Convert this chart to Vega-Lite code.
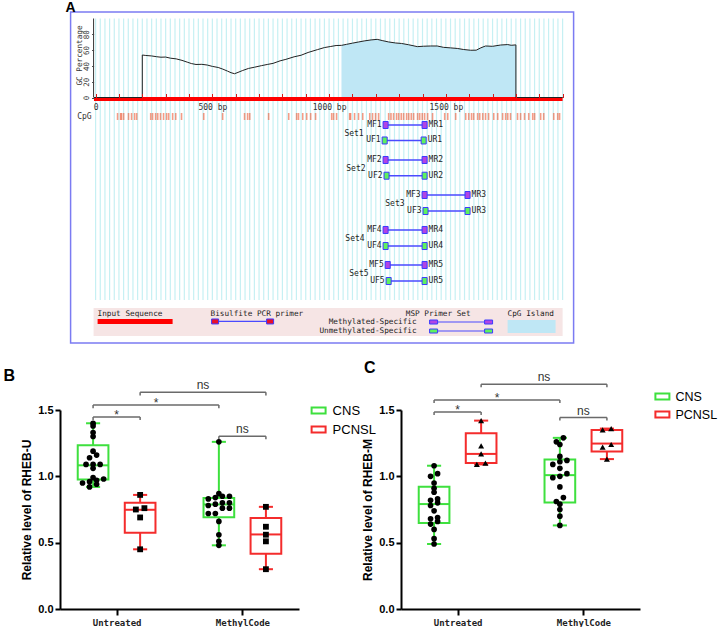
{
  "$schema": "https://vega.github.io/schema/vega-lite/v6.json",
  "padding": {"left": 3, "top": 0, "right": 0, "bottom": 0},
  "background": "white",
  "config": {"view": {"stroke": null}, "font": "Liberation Sans"},
  "datasets": {
    "gccurve": [
      {"bp": -7, "gc": 0}, {"bp": 200, "gc": 0}, {"bp": 200, "gc": 53.8}, {"bp": 215, "gc": 53.2}, {"bp": 240, "gc": 52.6},
      {"bp": 262, "gc": 51.6}, {"bp": 280, "gc": 51.0}, {"bp": 300, "gc": 51.2}, {"bp": 320, "gc": 49.8}, {"bp": 345, "gc": 48.9},
      {"bp": 370, "gc": 47.0}, {"bp": 395, "gc": 44.5}, {"bp": 410, "gc": 43.0}, {"bp": 430, "gc": 41.8}, {"bp": 455, "gc": 42.0},
      {"bp": 478, "gc": 41.1}, {"bp": 500, "gc": 39.4}, {"bp": 525, "gc": 38.0}, {"bp": 545, "gc": 35.9}, {"bp": 565, "gc": 33.4},
      {"bp": 580, "gc": 31.4}, {"bp": 595, "gc": 30.1}, {"bp": 610, "gc": 31.8}, {"bp": 630, "gc": 34.2}, {"bp": 655, "gc": 36.8},
      {"bp": 680, "gc": 38.3}, {"bp": 710, "gc": 40.3}, {"bp": 735, "gc": 41.8}, {"bp": 760, "gc": 43.2}, {"bp": 790, "gc": 46.4},
      {"bp": 815, "gc": 48.3}, {"bp": 850, "gc": 51.5}, {"bp": 880, "gc": 53.5}, {"bp": 910, "gc": 57.0}, {"bp": 950, "gc": 60.6},
      {"bp": 980, "gc": 63.2}, {"bp": 1005, "gc": 64.5}, {"bp": 1030, "gc": 65.8}, {"bp": 1053, "gc": 66.0}, {"bp": 1075, "gc": 67.3},
      {"bp": 1100, "gc": 68.8}, {"bp": 1125, "gc": 70.2}, {"bp": 1150, "gc": 71.6}, {"bp": 1180, "gc": 72.9}, {"bp": 1206, "gc": 73.6},
      {"bp": 1230, "gc": 71.9}, {"bp": 1255, "gc": 70.3}, {"bp": 1285, "gc": 69.0}, {"bp": 1310, "gc": 68.4}, {"bp": 1340, "gc": 66.8},
      {"bp": 1378, "gc": 64.4}, {"bp": 1405, "gc": 64.9}, {"bp": 1435, "gc": 65.2}, {"bp": 1463, "gc": 65.2}, {"bp": 1490, "gc": 63.5},
      {"bp": 1520, "gc": 62.8}, {"bp": 1549, "gc": 62.1}, {"bp": 1575, "gc": 60.8}, {"bp": 1606, "gc": 59.8}, {"bp": 1630, "gc": 59.9},
      {"bp": 1650, "gc": 62.9}, {"bp": 1670, "gc": 65.2}, {"bp": 1700, "gc": 64.8}, {"bp": 1734, "gc": 66.4}, {"bp": 1765, "gc": 67.0},
      {"bp": 1780, "gc": 66.1}, {"bp": 1800, "gc": 66.6}, {"bp": 1800, "gc": 0}, {"bp": 2000, "gc": 0}
    ],
    "primers": [
      {"set": 1, "name": "MF1", "type": "M", "side": "F", "bp": 1242, "gc": -34.8},
      {"set": 1, "name": "MR1", "type": "M", "side": "R", "bp": 1409, "gc": -34.8},
      {"set": 1, "name": "UF1", "type": "U", "side": "F", "bp": 1238, "gc": -54.4},
      {"set": 1, "name": "UR1", "type": "U", "side": "R", "bp": 1405, "gc": -54.4},
      {"set": 2, "name": "MF2", "type": "M", "side": "F", "bp": 1242, "gc": -79.1},
      {"set": 2, "name": "MR2", "type": "M", "side": "R", "bp": 1409, "gc": -79.1},
      {"set": 2, "name": "UF2", "type": "U", "side": "F", "bp": 1246, "gc": -99.0},
      {"set": 2, "name": "UR2", "type": "U", "side": "R", "bp": 1409, "gc": -99.0},
      {"set": 3, "name": "MF3", "type": "M", "side": "F", "bp": 1409, "gc": -123.4},
      {"set": 3, "name": "MR3", "type": "M", "side": "R", "bp": 1593, "gc": -123.4},
      {"set": 3, "name": "UF3", "type": "U", "side": "F", "bp": 1413, "gc": -143.7},
      {"set": 3, "name": "UR3", "type": "U", "side": "R", "bp": 1593, "gc": -143.7},
      {"set": 4, "name": "MF4", "type": "M", "side": "F", "bp": 1242, "gc": -167.7},
      {"set": 4, "name": "MR4", "type": "M", "side": "R", "bp": 1409, "gc": -167.7},
      {"set": 4, "name": "UF4", "type": "U", "side": "F", "bp": 1242, "gc": -188.0},
      {"set": 4, "name": "UR4", "type": "U", "side": "R", "bp": 1409, "gc": -188.0},
      {"set": 5, "name": "MF5", "type": "M", "side": "F", "bp": 1251, "gc": -212.0},
      {"set": 5, "name": "MR5", "type": "M", "side": "R", "bp": 1409, "gc": -212.0},
      {"set": 5, "name": "UF5", "type": "U", "side": "F", "bp": 1255, "gc": -232.3},
      {"set": 5, "name": "UR5", "type": "U", "side": "R", "bp": 1409, "gc": -232.3}
    ],
    "pts": [
      {"panel": "B", "treat": "Untreated", "grp": "CNS", "v": 1.40}, {"panel": "B", "treat": "Untreated", "grp": "CNS", "v": 1.38},
      {"panel": "B", "treat": "Untreated", "grp": "CNS", "v": 1.33}, {"panel": "B", "treat": "Untreated", "grp": "CNS", "v": 1.30},
      {"panel": "B", "treat": "Untreated", "grp": "CNS", "v": 1.19}, {"panel": "B", "treat": "Untreated", "grp": "CNS", "v": 1.16},
      {"panel": "B", "treat": "Untreated", "grp": "CNS", "v": 1.14}, {"panel": "B", "treat": "Untreated", "grp": "CNS", "v": 1.09},
      {"panel": "B", "treat": "Untreated", "grp": "CNS", "v": 1.09}, {"panel": "B", "treat": "Untreated", "grp": "CNS", "v": 1.09},
      {"panel": "B", "treat": "Untreated", "grp": "CNS", "v": 1.06}, {"panel": "B", "treat": "Untreated", "grp": "CNS", "v": 0.99},
      {"panel": "B", "treat": "Untreated", "grp": "CNS", "v": 0.98}, {"panel": "B", "treat": "Untreated", "grp": "CNS", "v": 0.97},
      {"panel": "B", "treat": "Untreated", "grp": "CNS", "v": 0.96}, {"panel": "B", "treat": "Untreated", "grp": "CNS", "v": 0.95},
      {"panel": "B", "treat": "Untreated", "grp": "CNS", "v": 0.94}, {"panel": "B", "treat": "Untreated", "grp": "CNS", "v": 0.92},
      {"panel": "B", "treat": "Untreated", "grp": "PCNSL", "v": 0.86}, {"panel": "B", "treat": "Untreated", "grp": "PCNSL", "v": 0.76},
      {"panel": "B", "treat": "Untreated", "grp": "PCNSL", "v": 0.75}, {"panel": "B", "treat": "Untreated", "grp": "PCNSL", "v": 0.69},
      {"panel": "B", "treat": "Untreated", "grp": "PCNSL", "v": 0.45},
      {"panel": "B", "treat": "MethylCode", "grp": "CNS", "v": 1.26}, {"panel": "B", "treat": "MethylCode", "grp": "CNS", "v": 0.87},
      {"panel": "B", "treat": "MethylCode", "grp": "CNS", "v": 0.85}, {"panel": "B", "treat": "MethylCode", "grp": "CNS", "v": 0.85},
      {"panel": "B", "treat": "MethylCode", "grp": "CNS", "v": 0.84}, {"panel": "B", "treat": "MethylCode", "grp": "CNS", "v": 0.83},
      {"panel": "B", "treat": "MethylCode", "grp": "CNS", "v": 0.80}, {"panel": "B", "treat": "MethylCode", "grp": "CNS", "v": 0.80},
      {"panel": "B", "treat": "MethylCode", "grp": "CNS", "v": 0.79}, {"panel": "B", "treat": "MethylCode", "grp": "CNS", "v": 0.78},
      {"panel": "B", "treat": "MethylCode", "grp": "CNS", "v": 0.76}, {"panel": "B", "treat": "MethylCode", "grp": "CNS", "v": 0.76},
      {"panel": "B", "treat": "MethylCode", "grp": "CNS", "v": 0.72}, {"panel": "B", "treat": "MethylCode", "grp": "CNS", "v": 0.72},
      {"panel": "B", "treat": "MethylCode", "grp": "CNS", "v": 0.66}, {"panel": "B", "treat": "MethylCode", "grp": "CNS", "v": 0.56},
      {"panel": "B", "treat": "MethylCode", "grp": "CNS", "v": 0.51}, {"panel": "B", "treat": "MethylCode", "grp": "CNS", "v": 0.48},
      {"panel": "B", "treat": "MethylCode", "grp": "PCNSL", "v": 0.77}, {"panel": "B", "treat": "MethylCode", "grp": "PCNSL", "v": 0.62},
      {"panel": "B", "treat": "MethylCode", "grp": "PCNSL", "v": 0.56}, {"panel": "B", "treat": "MethylCode", "grp": "PCNSL", "v": 0.51},
      {"panel": "B", "treat": "MethylCode", "grp": "PCNSL", "v": 0.30},
      {"panel": "C", "treat": "Untreated", "grp": "CNS", "v": 1.08}, {"panel": "C", "treat": "Untreated", "grp": "CNS", "v": 1.02},
      {"panel": "C", "treat": "Untreated", "grp": "CNS", "v": 1.00}, {"panel": "C", "treat": "Untreated", "grp": "CNS", "v": 0.95},
      {"panel": "C", "treat": "Untreated", "grp": "CNS", "v": 0.91}, {"panel": "C", "treat": "Untreated", "grp": "CNS", "v": 0.88},
      {"panel": "C", "treat": "Untreated", "grp": "CNS", "v": 0.83}, {"panel": "C", "treat": "Untreated", "grp": "CNS", "v": 0.82},
      {"panel": "C", "treat": "Untreated", "grp": "CNS", "v": 0.80}, {"panel": "C", "treat": "Untreated", "grp": "CNS", "v": 0.78},
      {"panel": "C", "treat": "Untreated", "grp": "CNS", "v": 0.74}, {"panel": "C", "treat": "Untreated", "grp": "CNS", "v": 0.69},
      {"panel": "C", "treat": "Untreated", "grp": "CNS", "v": 0.68}, {"panel": "C", "treat": "Untreated", "grp": "CNS", "v": 0.66},
      {"panel": "C", "treat": "Untreated", "grp": "CNS", "v": 0.64}, {"panel": "C", "treat": "Untreated", "grp": "CNS", "v": 0.60},
      {"panel": "C", "treat": "Untreated", "grp": "CNS", "v": 0.53}, {"panel": "C", "treat": "Untreated", "grp": "CNS", "v": 0.49},
      {"panel": "C", "treat": "Untreated", "grp": "PCNSL", "v": 1.42}, {"panel": "C", "treat": "Untreated", "grp": "PCNSL", "v": 1.23},
      {"panel": "C", "treat": "Untreated", "grp": "PCNSL", "v": 1.17}, {"panel": "C", "treat": "Untreated", "grp": "PCNSL", "v": 1.10},
      {"panel": "C", "treat": "Untreated", "grp": "PCNSL", "v": 1.09},
      {"panel": "C", "treat": "MethylCode", "grp": "CNS", "v": 1.29}, {"panel": "C", "treat": "MethylCode", "grp": "CNS", "v": 1.26},
      {"panel": "C", "treat": "MethylCode", "grp": "CNS", "v": 1.24}, {"panel": "C", "treat": "MethylCode", "grp": "CNS", "v": 1.15},
      {"panel": "C", "treat": "MethylCode", "grp": "CNS", "v": 1.12}, {"panel": "C", "treat": "MethylCode", "grp": "CNS", "v": 1.11},
      {"panel": "C", "treat": "MethylCode", "grp": "CNS", "v": 1.09}, {"panel": "C", "treat": "MethylCode", "grp": "CNS", "v": 1.06},
      {"panel": "C", "treat": "MethylCode", "grp": "CNS", "v": 1.02}, {"panel": "C", "treat": "MethylCode", "grp": "CNS", "v": 1.00},
      {"panel": "C", "treat": "MethylCode", "grp": "CNS", "v": 0.99}, {"panel": "C", "treat": "MethylCode", "grp": "CNS", "v": 0.92},
      {"panel": "C", "treat": "MethylCode", "grp": "CNS", "v": 0.84}, {"panel": "C", "treat": "MethylCode", "grp": "CNS", "v": 0.81},
      {"panel": "C", "treat": "MethylCode", "grp": "CNS", "v": 0.79}, {"panel": "C", "treat": "MethylCode", "grp": "CNS", "v": 0.75},
      {"panel": "C", "treat": "MethylCode", "grp": "CNS", "v": 0.70}, {"panel": "C", "treat": "MethylCode", "grp": "CNS", "v": 0.63},
      {"panel": "C", "treat": "MethylCode", "grp": "PCNSL", "v": 1.36}, {"panel": "C", "treat": "MethylCode", "grp": "PCNSL", "v": 1.35},
      {"panel": "C", "treat": "MethylCode", "grp": "PCNSL", "v": 1.24}, {"panel": "C", "treat": "MethylCode", "grp": "PCNSL", "v": 1.22},
      {"panel": "C", "treat": "MethylCode", "grp": "PCNSL", "v": 1.13}
    ],
    "box": [
      {"panel": "B", "treat": "Untreated", "grp": "CNS", "lo": 0.92, "q1": 0.977, "med": 1.083, "q3": 1.234, "hi": 1.40},
      {"panel": "B", "treat": "Untreated", "grp": "PCNSL", "lo": 0.45, "q1": 0.574, "med": 0.748, "q3": 0.801, "hi": 0.86},
      {"panel": "B", "treat": "MethylCode", "grp": "CNS", "lo": 0.48, "q1": 0.692, "med": 0.788, "q3": 0.836, "hi": 1.26},
      {"panel": "B", "treat": "MethylCode", "grp": "PCNSL", "lo": 0.30, "q1": 0.416, "med": 0.562, "q3": 0.685, "hi": 0.77},
      {"panel": "C", "treat": "Untreated", "grp": "CNS", "lo": 0.49, "q1": 0.648, "med": 0.791, "q3": 0.921, "hi": 1.08},
      {"panel": "C", "treat": "Untreated", "grp": "PCNSL", "lo": 1.09, "q1": 1.101, "med": 1.169, "q3": 1.325, "hi": 1.42},
      {"panel": "C", "treat": "MethylCode", "grp": "CNS", "lo": 0.63, "q1": 0.803, "med": 1.009, "q3": 1.127, "hi": 1.29},
      {"panel": "C", "treat": "MethylCode", "grp": "PCNSL", "lo": 1.13, "q1": 1.187, "med": 1.247, "q3": 1.350, "hi": 1.36}
    ],
    "sig": [
      {"panel": "B", "ta": "Untreated", "ga": "CNS", "tb": "Untreated", "gb": "PCNSL", "y": 1.448, "label": "*"},
      {"panel": "B", "ta": "Untreated", "ga": "CNS", "tb": "MethylCode", "gb": "CNS", "y": 1.537, "label": "*"},
      {"panel": "B", "ta": "Untreated", "ga": "PCNSL", "tb": "MethylCode", "gb": "PCNSL", "y": 1.633, "label": "ns"},
      {"panel": "B", "ta": "MethylCode", "ga": "CNS", "tb": "MethylCode", "gb": "PCNSL", "y": 1.302, "label": "ns"},
      {"panel": "C", "ta": "Untreated", "ga": "CNS", "tb": "Untreated", "gb": "PCNSL", "y": 1.485, "label": "*"},
      {"panel": "C", "ta": "Untreated", "ga": "CNS", "tb": "MethylCode", "gb": "CNS", "y": 1.576, "label": "*"},
      {"panel": "C", "ta": "Untreated", "ga": "PCNSL", "tb": "MethylCode", "gb": "PCNSL", "y": 1.694, "label": "ns"},
      {"panel": "C", "ta": "MethylCode", "ga": "CNS", "tb": "MethylCode", "gb": "PCNSL", "y": 1.443, "label": "ns"}
    ]
  },
  "spacing": 15,
  "resolve": {"scale": {"x": "independent", "y": "independent", "stroke": "independent", "fill": "independent"}},
  "vconcat": [
    {
      "width": 658,
      "height": 345,
      "encoding": {
        "x": {
          "field": "bp", "type": "quantitative",
          "scale": {"domain": [-152.46, 2665.5], "nice": false, "zero": false},
          "axis": {
            "orient": "bottom", "offset": -251.5, "domain": false, "grid": false, "zindex": 2,
            "values": [0, 100, 200, 300, 400, 500, 600, 700, 800, 900, 1000, 1100, 1200, 1300, 1400, 1500, 1600, 1700, 1800, 1900, 2000],
            "labelExpr": "datum.value == 0 ? '0' : (datum.value % 500 == 0 && datum.value < 2000 ? datum.value + ' bp' : '')",
            "tickSize": 4, "tickColor": "#d81818", "tickWidth": 1,
            "labelFont": "DejaVu Sans Mono", "labelFontSize": 8, "labelColor": "#333", "labelPadding": 6,
            "labelOverlap": false, "labelFlush": false, "labelBound": false, "title": null
          }
        },
        "y": {
          "field": "gc", "type": "quantitative",
          "scale": {"domain": [-313.29, 123.42], "nice": false, "zero": false},
          "axis": {
            "orient": "left", "offset": -33.6, "domain": false, "grid": false, "zindex": 2,
            "values": [0, 20, 40, 60, 80],
            "tickSize": 2, "tickColor": "#444",
            "labelAngle": -90, "labelAlign": "center", "labelBaseline": "bottom",
            "labelFont": "DejaVu Sans Mono", "labelFontSize": 7.5, "labelColor": "#333", "labelPadding": 1,
            "labelOverlap": false, "labelFlush": false, "labelBound": false,
            "title": "GC Percentage", "titleFont": "DejaVu Sans Mono", "titleFontSize": 7.7, "titleFontWeight": "normal",
            "titleColor": "#333", "titleAngle": -90, "titleAlign": "center", "titleBaseline": "middle", "titleX": -14.5, "titleY": 55
          }
        }
      },
      "layer": [
        {
          "data": {"values": [{"bp": -107.1, "bp2": 2047.1, "gc": 108.2, "gc2": -310.8}]},
          "mark": {"type": "rect", "fill": "white", "stroke": "#7b7bf2", "strokeWidth": 1.5},
          "encoding": {"x2": {"field": "bp2"}, "y2": {"field": "gc2"}}
        },
        {
          "data": {"values": [
            {"bp": 0}, {"bp": 20}, {"bp": 40}, {"bp": 60}, {"bp": 80}, {"bp": 100}, {"bp": 120}, {"bp": 140}, {"bp": 160}, {"bp": 180},
            {"bp": 200}, {"bp": 220}, {"bp": 240}, {"bp": 260}, {"bp": 280}, {"bp": 300}, {"bp": 320}, {"bp": 340}, {"bp": 360}, {"bp": 380},
            {"bp": 400}, {"bp": 420}, {"bp": 440}, {"bp": 460}, {"bp": 480}, {"bp": 500}, {"bp": 520}, {"bp": 540}, {"bp": 560}, {"bp": 580},
            {"bp": 600}, {"bp": 620}, {"bp": 640}, {"bp": 660}, {"bp": 680}, {"bp": 700}, {"bp": 720}, {"bp": 740}, {"bp": 760}, {"bp": 780},
            {"bp": 800}, {"bp": 820}, {"bp": 840}, {"bp": 860}, {"bp": 880}, {"bp": 900}, {"bp": 920}, {"bp": 940}, {"bp": 960}, {"bp": 980},
            {"bp": 1000}, {"bp": 1020}, {"bp": 1040}, {"bp": 1060}, {"bp": 1080}, {"bp": 1100}, {"bp": 1120}, {"bp": 1140}, {"bp": 1160}, {"bp": 1180},
            {"bp": 1200}, {"bp": 1220}, {"bp": 1240}, {"bp": 1260}, {"bp": 1280}, {"bp": 1300}, {"bp": 1320}, {"bp": 1340}, {"bp": 1360}, {"bp": 1380},
            {"bp": 1400}, {"bp": 1420}, {"bp": 1440}, {"bp": 1460}, {"bp": 1480}, {"bp": 1500}, {"bp": 1520}, {"bp": 1540}, {"bp": 1560}, {"bp": 1580},
            {"bp": 1600}, {"bp": 1620}, {"bp": 1640}, {"bp": 1660}, {"bp": 1680}, {"bp": 1700}, {"bp": 1720}, {"bp": 1740}, {"bp": 1760}, {"bp": 1780},
            {"bp": 1800}, {"bp": 1820}, {"bp": 1840}, {"bp": 1860}, {"bp": 1880}, {"bp": 1900}, {"bp": 1920}, {"bp": 1940}, {"bp": 1960}, {"bp": 1980},
            {"bp": 2000}
          ]},
          "transform": [{"calculate": "100", "as": "gc"}, {"calculate": "-256.3", "as": "gc2"}],
          "mark": {"type": "rule", "stroke": "#c6f0f3", "strokeWidth": 1.2},
          "encoding": {"y2": {"field": "gc2"}}
        },
        {
          "data": {"name": "gccurve"},
          "transform": [{"filter": "datum.bp >= 1053 && datum.bp <= 1800"}, {"calculate": "0", "as": "gc2"}],
          "mark": {"type": "area", "color": "#bfe7f5", "opacity": 1},
          "encoding": {"y2": {"field": "gc2"}}
        },
        {
          "data": {"values": [{"bp": -7, "bp2": 2000, "gc": 0.5, "gc2": -4.5}]},
          "mark": {"type": "rect", "fill": "#ff0000"},
          "encoding": {"x2": {"field": "bp2"}, "y2": {"field": "gc2"}}
        },
        {
          "data": {"name": "gccurve"},
          "mark": {"type": "line", "color": "#222222", "strokeWidth": 1}
        },
        {
          "data": {"values": [{"bp": -8.6, "gc": 0, "gc2": 100}]},
          "mark": {"type": "rule", "stroke": "#333333", "strokeWidth": 1},
          "encoding": {"y2": {"field": "gc2"}}
        },
        {
          "data": {"values": [
            {"bp": 94}, {"bp": 107}, {"bp": 111}, {"bp": 120}, {"bp": 141}, {"bp": 154}, {"bp": 167}, {"bp": 176}, {"bp": 236}, {"bp": 244},
            {"bp": 257}, {"bp": 266}, {"bp": 278}, {"bp": 291}, {"bp": 304}, {"bp": 313}, {"bp": 330}, {"bp": 343}, {"bp": 368}, {"bp": 463},
            {"bp": 544}, {"bp": 638}, {"bp": 651}, {"bp": 660}, {"bp": 741}, {"bp": 827}, {"bp": 861}, {"bp": 869}, {"bp": 887}, {"bp": 904},
            {"bp": 921}, {"bp": 942}, {"bp": 1011}, {"bp": 1019}, {"bp": 1032}, {"bp": 1088}, {"bp": 1092}, {"bp": 1109}, {"bp": 1126}, {"bp": 1144},
            {"bp": 1174}, {"bp": 1186}, {"bp": 1199}, {"bp": 1212}, {"bp": 1255}, {"bp": 1265}, {"bp": 1276}, {"bp": 1289}, {"bp": 1298}, {"bp": 1309},
            {"bp": 1319}, {"bp": 1332}, {"bp": 1341}, {"bp": 1352}, {"bp": 1362}, {"bp": 1379}, {"bp": 1388}, {"bp": 1399}, {"bp": 1409}, {"bp": 1422},
            {"bp": 1443}, {"bp": 1495}, {"bp": 1508}, {"bp": 1542}, {"bp": 1585}, {"bp": 1598}, {"bp": 1610}, {"bp": 1619}, {"bp": 1636}, {"bp": 1645},
            {"bp": 1658}, {"bp": 1670}, {"bp": 1683}, {"bp": 1705}, {"bp": 1722}, {"bp": 1743}, {"bp": 1756}, {"bp": 1765}, {"bp": 1777}, {"bp": 1807},
            {"bp": 1820}, {"bp": 1837}, {"bp": 1855}, {"bp": 1872}, {"bp": 1880}, {"bp": 1906}, {"bp": 1919}, {"bp": 1962}, {"bp": 1979}, {"bp": 1987}
          ]},
          "transform": [{"calculate": "-19.6", "as": "gc"}, {"calculate": "-28.5", "as": "gc2"}],
          "mark": {"type": "rule", "stroke": "#ef5a35", "strokeWidth": 1.6, "opacity": 0.6},
          "encoding": {"y2": {"field": "gc2"}}
        },
        {
          "data": {"values": [{"bp": -17.1, "gc": -24.1, "label": "CpG"}]},
          "mark": {"type": "text", "align": "right", "baseline": "middle", "font": "DejaVu Sans Mono", "fontSize": 8, "fill": "#333"},
          "encoding": {"text": {"field": "label"}}
        },
        {
          "data": {"name": "primers"},
          "transform": [{"aggregate": [{"op": "min", "field": "bp", "as": "bp"}, {"op": "max", "field": "bp", "as": "bp2"}], "groupby": ["set", "type", "gc"]}],
          "mark": {"type": "rule", "stroke": "#4a4aff", "strokeWidth": 1.5},
          "encoding": {"x2": {"field": "bp2"}}
        },
        {
          "data": {"name": "primers"},
          "mark": {"type": "point", "shape": "M-0.72,-1H0.72V1H-0.72Z", "size": 49, "filled": true, "stroke": "#3b3bff", "strokeWidth": 1, "opacity": 1},
          "encoding": {"fill": {"field": "type", "type": "nominal", "scale": {"domain": ["M", "U"], "range": ["#b144e4", "#5ef25e"]}, "legend": null}}
        },
        {
          "data": {"name": "primers"},
          "transform": [{"filter": "datum.side == 'F'"}],
          "mark": {"type": "text", "align": "right", "baseline": "middle", "dx": -4, "font": "DejaVu Sans Mono", "fontSize": 8, "fill": "#222"},
          "encoding": {"text": {"field": "name"}}
        },
        {
          "data": {"name": "primers"},
          "transform": [{"filter": "datum.side == 'R'"}],
          "mark": {"type": "text", "align": "left", "baseline": "middle", "dx": 4, "font": "DejaVu Sans Mono", "fontSize": 8, "fill": "#222"},
          "encoding": {"text": {"field": "name"}}
        },
        {
          "data": {"values": [
            {"bp": 1148, "gc": -46.2, "label": "Set1"}, {"bp": 1156, "gc": -90.5, "label": "Set2"},
            {"bp": 1323, "gc": -134.8, "label": "Set3"}, {"bp": 1152, "gc": -179.1, "label": "Set4"},
            {"bp": 1169, "gc": -223.4, "label": "Set5"}
          ]},
          "mark": {"type": "text", "align": "right", "baseline": "middle", "font": "DejaVu Sans Mono", "fontSize": 8, "fill": "#222"},
          "encoding": {"text": {"field": "label"}}
        },
        {
          "data": {"values": [{"bp": -8.6, "bp2": 2000, "gc": -266.5, "gc2": -301.9}]},
          "mark": {"type": "rect", "fill": "#f6e5e5"},
          "encoding": {"x2": {"field": "bp2"}, "y2": {"field": "gc2"}}
        },
        {
          "data": {"values": [{"bp": 8.6, "bp2": 329.8, "gc": -280.4, "gc2": -286.7}]},
          "mark": {"type": "rect", "fill": "#ff0000"},
          "encoding": {"x2": {"field": "bp2"}, "y2": {"field": "gc2"}}
        },
        {
          "data": {"values": [{"bp": 1764.5, "bp2": 1970, "gc": -281.6, "gc2": -298.1}]},
          "mark": {"type": "rect", "fill": "#bfe7f5"},
          "encoding": {"x2": {"field": "bp2"}, "y2": {"field": "gc2"}}
        },
        {
          "data": {"values": [
            {"bp": 511.8, "bp2": 747.3, "gc": -283.5},
            {"bp": 1447.5, "bp2": 1683, "gc": -284.2},
            {"bp": 1447.5, "bp2": 1683, "gc": -295.6}
          ]},
          "mark": {"type": "rule", "stroke": "#4a4aff", "strokeWidth": 1.2},
          "encoding": {"x2": {"field": "bp2"}}
        },
        {
          "data": {"values": [{"bp": 511.8, "gc": -283.5}, {"bp": 747.3, "gc": -283.5}]},
          "mark": {"type": "point", "shape": "M-1,-0.71H1V0.71H-1Z", "size": 49, "filled": true, "fill": "#e8102a", "stroke": "#3b3bff", "strokeWidth": 1, "opacity": 1}
        },
        {
          "data": {"values": [
            {"bp": 1447.5, "gc": -284.2, "type": "M"}, {"bp": 1683, "gc": -284.2, "type": "M"},
            {"bp": 1447.5, "gc": -295.6, "type": "U"}, {"bp": 1683, "gc": -295.6, "type": "U"}
          ]},
          "mark": {"type": "point", "shape": "M-1,-0.5H1V0.5H-1Z", "size": 64, "filled": true, "stroke": "#3b3bff", "strokeWidth": 1, "opacity": 1},
          "encoding": {"fill": {"field": "type", "type": "nominal", "scale": {"domain": ["M", "U"], "range": ["#b144e4", "#5ef25e"]}, "legend": null}}
        },
        {
          "data": {"values": [
            {"bp": 8.6, "gc": -274.1, "label": "Input Sequence"},
            {"bp": 492.5, "gc": -274.1, "label": "Bisulfite PCR primer"},
            {"bp": 1764.5, "gc": -274.1, "label": "CpG Island"}
          ]},
          "mark": {"type": "text", "align": "left", "baseline": "middle", "font": "DejaVu Sans Mono", "fontSize": 7.7, "fill": "#222"},
          "encoding": {"text": {"field": "label"}}
        },
        {
          "data": {"values": [
            {"bp": 1606, "gc": -274.1, "label": "MSP Primer Set"},
            {"bp": 1374.7, "gc": -284.2, "label": "Methylated-Specific"},
            {"bp": 1374.7, "gc": -295.6, "label": "Unmethylated-Specific"}
          ]},
          "mark": {"type": "text", "align": "right", "baseline": "middle", "font": "DejaVu Sans Mono", "fontSize": 7.7, "fill": "#222"},
          "encoding": {"text": {"field": "label"}}
        },
        {
          "data": {"values": [{"bp": -107, "gc": 113.3, "label": "A"}]},
          "mark": {"type": "text", "align": "center", "baseline": "middle", "font": "Liberation Sans", "fontSize": 14, "fontWeight": "bold", "fill": "black"},
          "encoding": {"text": {"field": "label"}}
        }
      ]
    },
    {
      "hconcat": [
        {
          "width": 239,
          "height": 199,
          "title": {"text": "B", "anchor": "start", "frame": "group", "dx": -56.4, "offset": -5, "font": "Liberation Sans", "fontSize": 16, "fontWeight": "bold", "color": "black"},
          "encoding": {
            "x": {
              "field": "x", "type": "quantitative",
              "scale": {"domain": [0.55, 2.45], "nice": false, "zero": false},
              "axis": {
                "values": [1, 2], "labelExpr": "datum.value == 1 ? 'Untreated' : 'MethylCode'", "grid": false,
                "domainColor": "black", "domainWidth": 2, "tickColor": "black", "tickWidth": 2, "tickSize": 6,
                "labelFont": "DejaVu Sans Mono", "labelFontWeight": "bold", "labelFontSize": 9, "labelColor": "#222", "labelPadding": 3,
                "labelFlush": false, "title": null
              }
            },
            "y": {
              "field": "y", "type": "quantitative",
              "scale": {"domain": [0, 1.5], "nice": false, "zero": false},
              "axis": {
                "values": [0, 0.5, 1, 1.5], "format": ".1f", "grid": false,
                "domainColor": "black", "domainWidth": 2, "tickColor": "black", "tickWidth": 2, "tickSize": 5,
                "labelFont": "Liberation Sans", "labelFontWeight": "bold", "labelFontSize": 11, "labelColor": "black", "labelPadding": 2,
                "title": "Relative level of RHEB-U", "titleFont": "Liberation Sans", "titleFontSize": 12, "titleFontWeight": "bold", "titleColor": "black", "titlePadding": 4
              }
            }
          },
          "layer": [
            {
              "data": {"name": "box"},
              "transform": [
                {"filter": "datum.panel == 'B'"},
                {"calculate": "(datum.treat == 'Untreated' ? 1 : 2) + (datum.grp == 'CNS' ? -0.187 : 0.187)", "as": "x"},
                {"fold": ["lo", "hi"], "as": ["end", "y"]},
                {"calculate": "datum.end == 'lo' ? datum.q1 : datum.q3", "as": "y2"}
              ],
              "mark": {"type": "rule", "strokeWidth": 2},
              "encoding": {
                "y2": {"field": "y2"},
                "stroke": {
                  "field": "grp", "type": "nominal", "scale": {"domain": ["CNS", "PCNSL"], "range": ["#3ee03e", "#f42c2c"]},
                  "legend": {
                    "title": null, "orient": "none", "legendX": 250.6, "legendY": -7.5, "padding": 0,
                    "symbolType": "M-1,-0.43H1V0.43H-1Z", "symbolSize": 196, "symbolStrokeWidth": 2, "symbolFillColor": "transparent",
                    "labelFont": "Liberation Sans", "labelFontSize": 13, "labelColor": "black", "labelOffset": 6, "rowPadding": 3
                  }
                }
              }
            },
            {
              "data": {"name": "box"},
              "transform": [
                {"filter": "datum.panel == 'B'"},
                {"calculate": "(datum.treat == 'Untreated' ? 1 : 2) + (datum.grp == 'CNS' ? -0.187 : 0.187)", "as": "c"},
                {"calculate": "datum.c - 0.056", "as": "x"},
                {"calculate": "datum.c + 0.056", "as": "x2"},
                {"fold": ["lo", "hi"], "as": ["end", "y"]}
              ],
              "mark": {"type": "rule", "strokeWidth": 2},
              "encoding": {
                "x2": {"field": "x2"},
                "stroke": {
                  "field": "grp", "type": "nominal", "scale": {"domain": ["CNS", "PCNSL"], "range": ["#3ee03e", "#f42c2c"]},
                  "legend": {
                    "title": null, "orient": "none", "legendX": 250.6, "legendY": -7.5, "padding": 0,
                    "symbolType": "M-1,-0.43H1V0.43H-1Z", "symbolSize": 196, "symbolStrokeWidth": 2, "symbolFillColor": "transparent",
                    "labelFont": "Liberation Sans", "labelFontSize": 13, "labelColor": "black", "labelOffset": 6, "rowPadding": 3
                  }
                }
              }
            },
            {
              "data": {"name": "box"},
              "transform": [
                {"filter": "datum.panel == 'B'"},
                {"calculate": "(datum.treat == 'Untreated' ? 1 : 2) + (datum.grp == 'CNS' ? -0.187 : 0.187)", "as": "c"},
                {"calculate": "datum.c - 0.122", "as": "x"},
                {"calculate": "datum.c + 0.122", "as": "x2"},
                {"calculate": "datum.q1", "as": "y"},
                {"calculate": "datum.q3", "as": "y2"}
              ],
              "mark": {"type": "rect", "fill": "white", "strokeWidth": 2},
              "encoding": {
                "x2": {"field": "x2"},
                "y2": {"field": "y2"},
                "stroke": {
                  "field": "grp", "type": "nominal", "scale": {"domain": ["CNS", "PCNSL"], "range": ["#3ee03e", "#f42c2c"]},
                  "legend": {
                    "title": null, "orient": "none", "legendX": 250.6, "legendY": -7.5, "padding": 0,
                    "symbolType": "M-1,-0.43H1V0.43H-1Z", "symbolSize": 196, "symbolStrokeWidth": 2, "symbolFillColor": "transparent",
                    "labelFont": "Liberation Sans", "labelFontSize": 13, "labelColor": "black", "labelOffset": 6, "rowPadding": 3
                  }
                }
              }
            },
            {
              "data": {"name": "box"},
              "transform": [
                {"filter": "datum.panel == 'B'"},
                {"calculate": "(datum.treat == 'Untreated' ? 1 : 2) + (datum.grp == 'CNS' ? -0.187 : 0.187)", "as": "c"},
                {"calculate": "datum.c - 0.122", "as": "x"},
                {"calculate": "datum.c + 0.122", "as": "x2"},
                {"calculate": "datum.med", "as": "y"}
              ],
              "mark": {"type": "rule", "strokeWidth": 2},
              "encoding": {
                "x2": {"field": "x2"},
                "stroke": {
                  "field": "grp", "type": "nominal", "scale": {"domain": ["CNS", "PCNSL"], "range": ["#3ee03e", "#f42c2c"]},
                  "legend": {
                    "title": null, "orient": "none", "legendX": 250.6, "legendY": -7.5, "padding": 0,
                    "symbolType": "M-1,-0.43H1V0.43H-1Z", "symbolSize": 196, "symbolStrokeWidth": 2, "symbolFillColor": "transparent",
                    "labelFont": "Liberation Sans", "labelFontSize": 13, "labelColor": "black", "labelOffset": 6, "rowPadding": 3
                  }
                }
              }
            },
            {
              "data": {"name": "sig"},
              "transform": [
                {"filter": "datum.panel == 'B'"},
                {"calculate": "(datum.ta == 'Untreated' ? 1 : 2) + (datum.ga == 'CNS' ? -0.187 : 0.187)", "as": "x"},
                {"calculate": "(datum.tb == 'Untreated' ? 1 : 2) + (datum.gb == 'CNS' ? -0.187 : 0.187)", "as": "x2"}
              ],
              "mark": {"type": "rule", "stroke": "#6a6a6a", "strokeWidth": 1.5},
              "encoding": {"x2": {"field": "x2"}}
            },
            {
              "data": {"name": "sig"},
              "transform": [
                {"filter": "datum.panel == 'B'"},
                {"calculate": "(datum.ta == 'Untreated' ? 1 : 2) + (datum.ga == 'CNS' ? -0.187 : 0.187)", "as": "xa"},
                {"calculate": "(datum.tb == 'Untreated' ? 1 : 2) + (datum.gb == 'CNS' ? -0.187 : 0.187)", "as": "xb"},
                {"fold": ["xa", "xb"], "as": ["end", "x"]},
                {"calculate": "datum.y - 0.023", "as": "y2"}
              ],
              "mark": {"type": "rule", "stroke": "#6a6a6a", "strokeWidth": 1.5},
              "encoding": {"y2": {"field": "y2"}}
            },
            {
              "data": {"name": "sig"},
              "transform": [
                {"filter": "datum.panel == 'B' && datum.label == 'ns'"},
                {"calculate": "((datum.ta == 'Untreated' ? 1 : 2) + (datum.ga == 'CNS' ? -0.187 : 0.187) + (datum.tb == 'Untreated' ? 1 : 2) + (datum.gb == 'CNS' ? -0.187 : 0.187)) / 2", "as": "x"}
              ],
              "mark": {"type": "text", "baseline": "alphabetic", "dy": -3, "font": "Liberation Sans", "fontSize": 12, "fill": "#333"},
              "encoding": {"text": {"field": "label"}}
            },
            {
              "data": {"name": "sig"},
              "transform": [
                {"filter": "datum.panel == 'B' && datum.label == '*'"},
                {"calculate": "((datum.ta == 'Untreated' ? 1 : 2) + (datum.ga == 'CNS' ? -0.187 : 0.187) + (datum.tb == 'Untreated' ? 1 : 2) + (datum.gb == 'CNS' ? -0.187 : 0.187)) / 2", "as": "x"}
              ],
              "mark": {"type": "text", "baseline": "alphabetic", "dy": 2, "font": "Liberation Sans", "fontSize": 12, "fill": "#333"},
              "encoding": {"text": {"field": "label"}}
            },
            {
              "data": {"name": "pts"},
              "transform": [
                {"filter": "datum.panel == 'B' && datum.grp == 'CNS'"},
                {"calculate": "(datum.treat == 'Untreated' ? 1 : 2) - 0.187", "as": "c"},
                {"calculate": "floor(datum.v / 0.045)", "as": "vb"},
                {"window": [{"op": "row_number", "as": "k"}], "groupby": ["treat", "vb"], "sort": [{"field": "v", "order": "ascending"}]},
                {"joinaggregate": [{"op": "count", "as": "n"}], "groupby": ["treat", "vb"]},
                {"calculate": "datum.c + (datum.k - (datum.n + 1) / 2) * 0.056", "as": "x"},
                {"calculate": "datum.v", "as": "y"}
              ],
              "mark": {"type": "point", "shape": "circle", "filled": true, "color": "black", "size": 32, "opacity": 1}
            },
            {
              "data": {"name": "pts"},
              "transform": [
                {"filter": "datum.panel == 'B' && datum.grp == 'PCNSL'"},
                {"calculate": "(datum.treat == 'Untreated' ? 1 : 2) + 0.187", "as": "c"},
                {"calculate": "floor(datum.v / 0.045)", "as": "vb"},
                {"window": [{"op": "row_number", "as": "k"}], "groupby": ["treat", "vb"], "sort": [{"field": "v", "order": "ascending"}]},
                {"joinaggregate": [{"op": "count", "as": "n"}], "groupby": ["treat", "vb"]},
                {"calculate": "datum.c + (datum.k - (datum.n + 1) / 2) * 0.068", "as": "x"},
                {"calculate": "datum.v", "as": "y"}
              ],
              "mark": {"type": "point", "shape": "square", "filled": true, "color": "black", "size": 34, "opacity": 1}
            }
          ]
        },
        {
          "width": 239,
          "height": 199,
          "title": {"text": "C", "anchor": "start", "frame": "group", "dx": -37, "offset": -5, "font": "Liberation Sans", "fontSize": 16, "fontWeight": "bold", "color": "black"},
          "encoding": {
            "x": {
              "field": "x", "type": "quantitative",
              "scale": {"domain": [0.55, 2.45], "nice": false, "zero": false},
              "axis": {
                "values": [1, 2], "labelExpr": "datum.value == 1 ? 'Untreated' : 'MethylCode'", "grid": false,
                "domainColor": "black", "domainWidth": 2, "tickColor": "black", "tickWidth": 2, "tickSize": 6,
                "labelFont": "DejaVu Sans Mono", "labelFontWeight": "bold", "labelFontSize": 9, "labelColor": "#222", "labelPadding": 3,
                "labelFlush": false, "title": null
              }
            },
            "y": {
              "field": "y", "type": "quantitative",
              "scale": {"domain": [0, 1.5], "nice": false, "zero": false},
              "axis": {
                "values": [0, 0.5, 1, 1.5], "format": ".1f", "grid": false,
                "domainColor": "black", "domainWidth": 2, "tickColor": "black", "tickWidth": 2, "tickSize": 5,
                "labelFont": "Liberation Sans", "labelFontWeight": "bold", "labelFontSize": 11, "labelColor": "black", "labelPadding": 2,
                "title": "Relative level of RHEB-M", "titleFont": "Liberation Sans", "titleFontSize": 12, "titleFontWeight": "bold", "titleColor": "black", "titlePadding": 4
              }
            }
          },
          "layer": [
            {
              "data": {"name": "box"},
              "transform": [
                {"filter": "datum.panel == 'C'"},
                {"calculate": "(datum.treat == 'Untreated' ? 1 : 2) + (datum.grp == 'CNS' ? -0.187 : 0.187)", "as": "x"},
                {"fold": ["lo", "hi"], "as": ["end", "y"]},
                {"calculate": "datum.end == 'lo' ? datum.q1 : datum.q3", "as": "y2"}
              ],
              "mark": {"type": "rule", "strokeWidth": 2},
              "encoding": {
                "y2": {"field": "y2"},
                "stroke": {
                  "field": "grp", "type": "nominal", "scale": {"domain": ["CNS", "PCNSL"], "range": ["#3ee03e", "#f42c2c"]},
                  "legend": {
                    "title": null, "orient": "none", "legendX": 253.4, "legendY": -21.5, "padding": 0,
                    "symbolType": "M-1,-0.43H1V0.43H-1Z", "symbolSize": 196, "symbolStrokeWidth": 2, "symbolFillColor": "transparent",
                    "labelFont": "Liberation Sans", "labelFontSize": 12.5, "labelColor": "black", "labelOffset": 5, "rowPadding": 2
                  }
                }
              }
            },
            {
              "data": {"name": "box"},
              "transform": [
                {"filter": "datum.panel == 'C'"},
                {"calculate": "(datum.treat == 'Untreated' ? 1 : 2) + (datum.grp == 'CNS' ? -0.187 : 0.187)", "as": "c"},
                {"calculate": "datum.c - 0.056", "as": "x"},
                {"calculate": "datum.c + 0.056", "as": "x2"},
                {"fold": ["lo", "hi"], "as": ["end", "y"]}
              ],
              "mark": {"type": "rule", "strokeWidth": 2},
              "encoding": {
                "x2": {"field": "x2"},
                "stroke": {
                  "field": "grp", "type": "nominal", "scale": {"domain": ["CNS", "PCNSL"], "range": ["#3ee03e", "#f42c2c"]},
                  "legend": {
                    "title": null, "orient": "none", "legendX": 253.4, "legendY": -21.5, "padding": 0,
                    "symbolType": "M-1,-0.43H1V0.43H-1Z", "symbolSize": 196, "symbolStrokeWidth": 2, "symbolFillColor": "transparent",
                    "labelFont": "Liberation Sans", "labelFontSize": 12.5, "labelColor": "black", "labelOffset": 5, "rowPadding": 2
                  }
                }
              }
            },
            {
              "data": {"name": "box"},
              "transform": [
                {"filter": "datum.panel == 'C'"},
                {"calculate": "(datum.treat == 'Untreated' ? 1 : 2) + (datum.grp == 'CNS' ? -0.187 : 0.187)", "as": "c"},
                {"calculate": "datum.c - 0.122", "as": "x"},
                {"calculate": "datum.c + 0.122", "as": "x2"},
                {"calculate": "datum.q1", "as": "y"},
                {"calculate": "datum.q3", "as": "y2"}
              ],
              "mark": {"type": "rect", "fill": "white", "strokeWidth": 2},
              "encoding": {
                "x2": {"field": "x2"},
                "y2": {"field": "y2"},
                "stroke": {
                  "field": "grp", "type": "nominal", "scale": {"domain": ["CNS", "PCNSL"], "range": ["#3ee03e", "#f42c2c"]},
                  "legend": {
                    "title": null, "orient": "none", "legendX": 253.4, "legendY": -21.5, "padding": 0,
                    "symbolType": "M-1,-0.43H1V0.43H-1Z", "symbolSize": 196, "symbolStrokeWidth": 2, "symbolFillColor": "transparent",
                    "labelFont": "Liberation Sans", "labelFontSize": 12.5, "labelColor": "black", "labelOffset": 5, "rowPadding": 2
                  }
                }
              }
            },
            {
              "data": {"name": "box"},
              "transform": [
                {"filter": "datum.panel == 'C'"},
                {"calculate": "(datum.treat == 'Untreated' ? 1 : 2) + (datum.grp == 'CNS' ? -0.187 : 0.187)", "as": "c"},
                {"calculate": "datum.c - 0.122", "as": "x"},
                {"calculate": "datum.c + 0.122", "as": "x2"},
                {"calculate": "datum.med", "as": "y"}
              ],
              "mark": {"type": "rule", "strokeWidth": 2},
              "encoding": {
                "x2": {"field": "x2"},
                "stroke": {
                  "field": "grp", "type": "nominal", "scale": {"domain": ["CNS", "PCNSL"], "range": ["#3ee03e", "#f42c2c"]},
                  "legend": {
                    "title": null, "orient": "none", "legendX": 253.4, "legendY": -21.5, "padding": 0,
                    "symbolType": "M-1,-0.43H1V0.43H-1Z", "symbolSize": 196, "symbolStrokeWidth": 2, "symbolFillColor": "transparent",
                    "labelFont": "Liberation Sans", "labelFontSize": 12.5, "labelColor": "black", "labelOffset": 5, "rowPadding": 2
                  }
                }
              }
            },
            {
              "data": {"name": "sig"},
              "transform": [
                {"filter": "datum.panel == 'C'"},
                {"calculate": "(datum.ta == 'Untreated' ? 1 : 2) + (datum.ga == 'CNS' ? -0.187 : 0.187)", "as": "x"},
                {"calculate": "(datum.tb == 'Untreated' ? 1 : 2) + (datum.gb == 'CNS' ? -0.187 : 0.187)", "as": "x2"}
              ],
              "mark": {"type": "rule", "stroke": "#6a6a6a", "strokeWidth": 1.5},
              "encoding": {"x2": {"field": "x2"}}
            },
            {
              "data": {"name": "sig"},
              "transform": [
                {"filter": "datum.panel == 'C'"},
                {"calculate": "(datum.ta == 'Untreated' ? 1 : 2) + (datum.ga == 'CNS' ? -0.187 : 0.187)", "as": "xa"},
                {"calculate": "(datum.tb == 'Untreated' ? 1 : 2) + (datum.gb == 'CNS' ? -0.187 : 0.187)", "as": "xb"},
                {"fold": ["xa", "xb"], "as": ["end", "x"]},
                {"calculate": "datum.y - 0.023", "as": "y2"}
              ],
              "mark": {"type": "rule", "stroke": "#6a6a6a", "strokeWidth": 1.5},
              "encoding": {"y2": {"field": "y2"}}
            },
            {
              "data": {"name": "sig"},
              "transform": [
                {"filter": "datum.panel == 'C' && datum.label == 'ns'"},
                {"calculate": "((datum.ta == 'Untreated' ? 1 : 2) + (datum.ga == 'CNS' ? -0.187 : 0.187) + (datum.tb == 'Untreated' ? 1 : 2) + (datum.gb == 'CNS' ? -0.187 : 0.187)) / 2", "as": "x"}
              ],
              "mark": {"type": "text", "baseline": "alphabetic", "dy": -3, "font": "Liberation Sans", "fontSize": 12, "fill": "#333"},
              "encoding": {"text": {"field": "label"}}
            },
            {
              "data": {"name": "sig"},
              "transform": [
                {"filter": "datum.panel == 'C' && datum.label == '*'"},
                {"calculate": "((datum.ta == 'Untreated' ? 1 : 2) + (datum.ga == 'CNS' ? -0.187 : 0.187) + (datum.tb == 'Untreated' ? 1 : 2) + (datum.gb == 'CNS' ? -0.187 : 0.187)) / 2", "as": "x"}
              ],
              "mark": {"type": "text", "baseline": "alphabetic", "dy": 2, "font": "Liberation Sans", "fontSize": 12, "fill": "#333"},
              "encoding": {"text": {"field": "label"}}
            },
            {
              "data": {"name": "pts"},
              "transform": [
                {"filter": "datum.panel == 'C' && datum.grp == 'CNS'"},
                {"calculate": "(datum.treat == 'Untreated' ? 1 : 2) - 0.187", "as": "c"},
                {"calculate": "floor(datum.v / 0.045)", "as": "vb"},
                {"window": [{"op": "row_number", "as": "k"}], "groupby": ["treat", "vb"], "sort": [{"field": "v", "order": "ascending"}]},
                {"joinaggregate": [{"op": "count", "as": "n"}], "groupby": ["treat", "vb"]},
                {"calculate": "datum.c + (datum.k - (datum.n + 1) / 2) * 0.056", "as": "x"},
                {"calculate": "datum.v", "as": "y"}
              ],
              "mark": {"type": "point", "shape": "circle", "filled": true, "color": "black", "size": 32, "opacity": 1}
            },
            {
              "data": {"name": "pts"},
              "transform": [
                {"filter": "datum.panel == 'C' && datum.grp == 'PCNSL'"},
                {"calculate": "(datum.treat == 'Untreated' ? 1 : 2) + 0.187", "as": "c"},
                {"calculate": "floor(datum.v / 0.045)", "as": "vb"},
                {"window": [{"op": "row_number", "as": "k"}], "groupby": ["treat", "vb"], "sort": [{"field": "v", "order": "ascending"}]},
                {"joinaggregate": [{"op": "count", "as": "n"}], "groupby": ["treat", "vb"]},
                {"calculate": "datum.c + (datum.k - (datum.n + 1) / 2) * 0.068", "as": "x"},
                {"calculate": "datum.v", "as": "y"}
              ],
              "mark": {"type": "point", "shape": "triangle-up", "filled": true, "color": "black", "size": 36, "opacity": 1}
            }
          ]
        }
      ],
      "spacing": 102,
      "bounds": "flush",
      "resolve": {"scale": {"x": "independent", "y": "independent", "stroke": "independent"}}
    }
  ]
}
